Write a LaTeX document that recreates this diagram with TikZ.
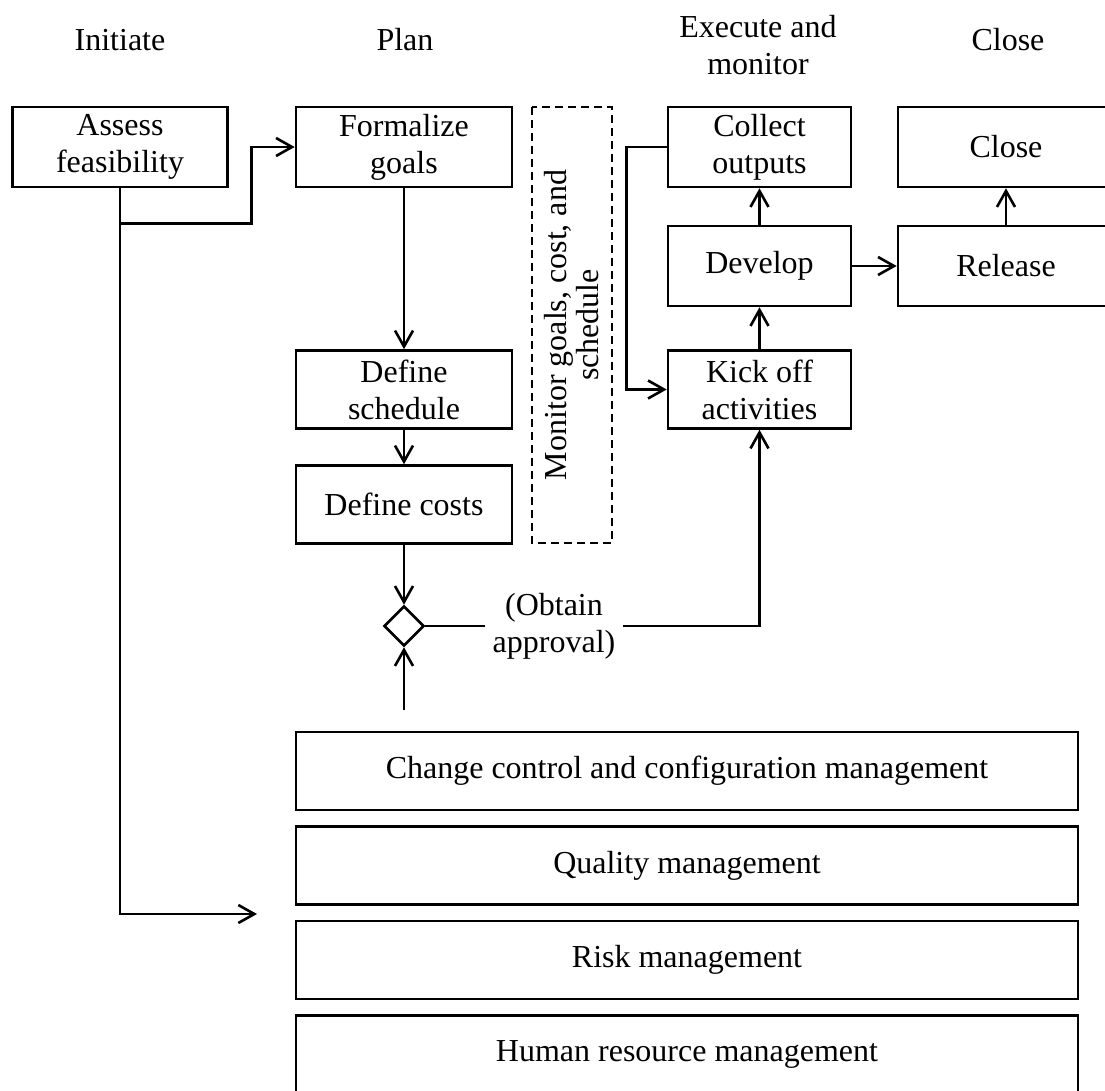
\documentclass[tikz,border=0pt]{standalone}
\usepackage{fontspec}
\setmainfont{Liberation Serif}
\usepackage{tikz}
\usetikzlibrary{calc}
\usetikzlibrary{arrows.meta}
\usetikzlibrary{shapes,positioning}

\begin{document}
\begin{tikzpicture}[on grid,>={Straight Barb[length=8pt,width=9pt]},line width=1.3pt,
		font=\fontsize{16}{18.5}\selectfont,
		box/.style={rectangle,draw=black,align=center,minimum width=108pt,minimum height=40pt,inner sep=2pt},
		smallbox/.style={box,minimum width=91.5pt},
		mgmt/.style={box,minimum width=391pt,minimum height=39pt},
		dashbox/.style={rectangle,draw=black,line width=1pt,dash pattern=on 4pt off 2.5pt,rotate=90,
			align=center,minimum width=218pt,minimum height=40pt,inner sep=1pt,font=\fontsize{16}{16}\selectfont},
		phase/.style={align=center}]
		\useasboundingbox (0,0) rectangle (552.5pt,-545.5pt);
		
		\node[phase]  (initiate)  at (60pt,-20pt)          {Initiate};
		\node[phase]  (plan)      at (202.5pt,-20pt)       {Plan};
		\node[phase]  (execute)   at (379pt,-22.5pt)       {Execute and\\monitor};
		\node[phase]  (closing)   at (504pt,-20pt)         {Close};
		
		\node[box, minimum width=107.5pt] (assess) at (60pt,-73.5pt) {Assess\\feasibility};
		\node[box]    (formalize) [right=142pt of assess]     {Formalize\\goals};
		\node[box, minimum height=39pt] (schedule) [below=121.25pt of formalize] {Define\\schedule};
		\node[box, minimum height=39pt] (costs)    [below=57.5pt of schedule]    {Define costs};
		\node[diamond,draw=black,minimum size=20pt,inner sep=0pt] (approve) [below=60.75pt of costs] {};
		\node[phase, inner xsep=3pt] (approval) [right=75pt of approve] {(Obtain\\approval)};
		\coordinate[below=42pt of approve] (approvein);
		
		\node[dashbox] (monitor) at (286pt,-162.5pt)       {Monitor goals, cost, and\\schedule};
		
		\node[smallbox] (collect) at (379.75pt,-73.5pt)    {Collect\\outputs};
		\node[smallbox] (develop) [below=59.5pt of collect] {Develop};
		\node[smallbox, minimum height=39pt] (kick) [below=61.75pt of develop] {Kick off\\activities};
		\node[box]    (release)   [right=123.25pt of develop] {Release};
		\node[box]    (close)     [above=59.5pt of release]   {Close};
		
		\node[mgmt]   (change)    at (343.5pt,-385.5pt)    {Change control and configuration management};
		\node[mgmt]   (quality)   [below=47.25pt of change]  {Quality management};
		\node[mgmt]   (risk)      [below=47.25pt of quality] {Risk management};
		\node[mgmt]   (hr)        [below=47.25pt of risk]    {Human resource management};
		\coordinate   (mgmtin)    at (128.5pt,-457pt);
		
		\draw[->] (assess.south) |- (mgmtin);
		\draw[->] ($(assess.south)+(0,-17.5pt)$) -| ($(formalize.west)+(-21.5pt,0)$) -- (formalize.west);
		\draw[->] (formalize) -- (schedule);
		\draw[->] (schedule) -- (costs);
		\draw[->] (costs) -- (approve);
		\draw[->] (approvein) -- (approve);
		\draw     (approve.east) -- (approval.west);
		\draw[->] (approval.east) -| (kick.south);
		\draw[->] (collect.west) -- ++(-20pt,0) |- (kick.west);
		\draw[->] (kick) -- (develop);
		\draw[->] (develop) -- (collect);
		\draw[->] (develop) -- (release);
		\draw[->] (release) -- (close);
\end{tikzpicture}
\end{document}
